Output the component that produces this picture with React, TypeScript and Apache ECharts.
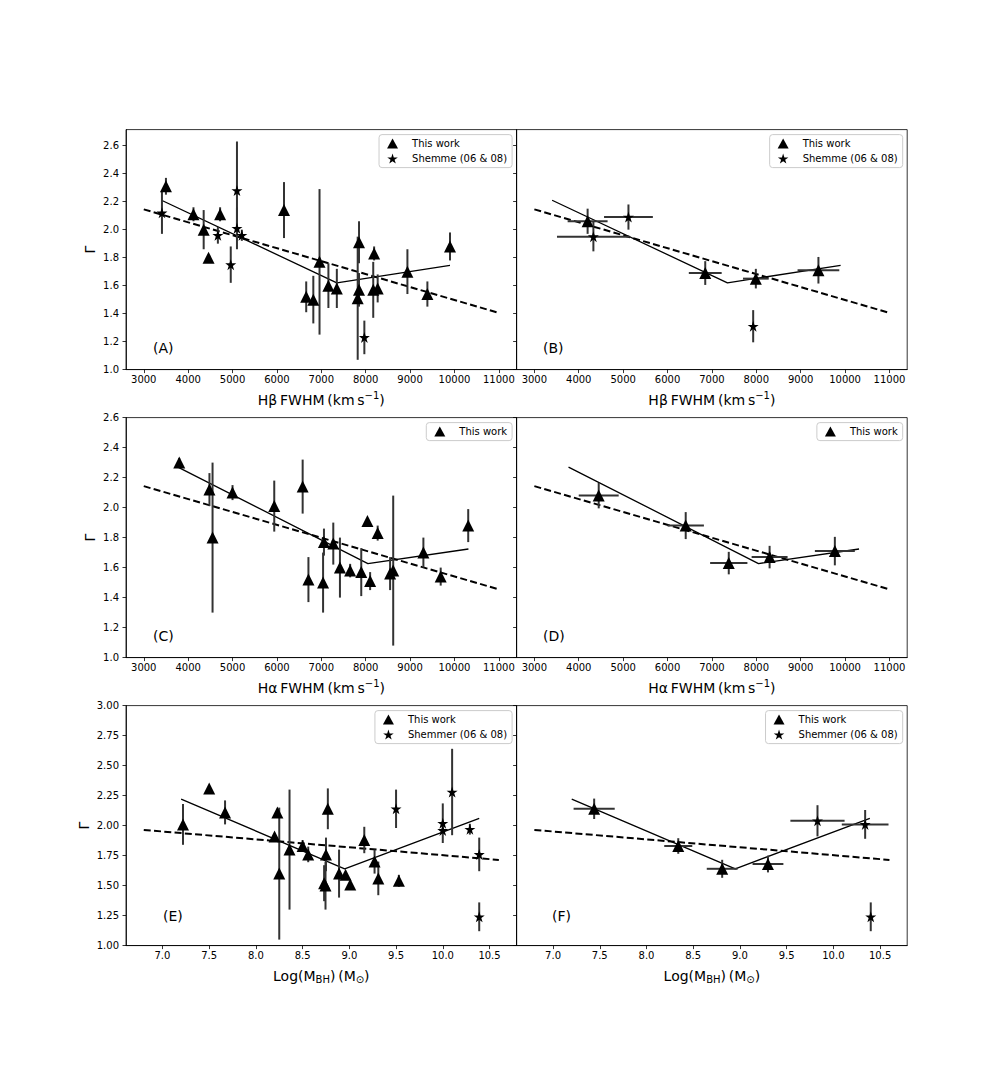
import React, { useEffect, useRef } from "react";
import * as echarts from "echarts";

// ---------- tick labels ----------
const fwhmTicks = [3000, 4000, 5000, 6000, 7000, 8000, 9000, 10000, 11000];
const mbhTicks = [7.0, 7.5, 8.0, 8.5, 9.0, 9.5, 10.0, 10.5];
const gammaTicksRow1 = [1.0, 1.2, 1.4, 1.6, 1.8, 2.0, 2.2, 2.4, 2.6];
const gammaTicksRow2 = [1.0, 1.2, 1.4, 1.6, 1.8, 2.0, 2.2, 2.4, 2.6];
const gammaTicksRow3 = [1.0, 1.25, 1.5, 1.75, 2.0, 2.25, 2.5, 2.75, 3.0];

// ---------- Panel A: Hβ FWHM vs Γ, individual sources [x, y, yErr] ----------
const panelAWork = [
  [3500, 2.31, 0.06], [4120, 2.11, 0.05], [4350, 2.0, 0.14], [4460, 1.8, 0],
  [4720, 2.11, 0.05], [6160, 2.14, 0.2], [6660, 1.52, 0.11], [6820, 1.5, 0.17],
  [6960, 1.77, 0.52], [7160, 1.6, 0.16], [7350, 1.58, 0.14], [7820, 1.51, 0.44],
  [7850, 1.91, 0.15], [7850, 1.57, 0.12], [8190, 1.83, 0.05], [8170, 1.57, 0.2],
  [8270, 1.58, 0.1], [8940, 1.7, 0.16], [9390, 1.54, 0.09], [9900, 1.88, 0.1],
];
const panelAShemmer = [
  [3410, 2.12, 0.15], [4670, 1.96, 0.06], [4960, 1.75, 0.13], [5100, 2.28, 0.35],
  [5100, 2.01, 0.15], [5210, 1.96, 0.04], [7970, 1.23, 0.12],
];

// ---------- Panel B: Hβ FWHM binned [x, y, xErr, yErr] ----------
const panelBWork = [
  [4200, 2.06, 450, 0.09], [6850, 1.69, 370, 0.085], [7990, 1.65, 290, 0.07], [9400, 1.71, 470, 0.095],
];
const panelBShemmer = [
  [4330, 1.95, 820, 0.105], [5120, 2.09, 550, 0.09], [7930, 1.31, 0, 0.115],
];

// ---------- Panel C: Hα FWHM vs Γ [x, y, yErr] ----------
const panelCWork = [
  [3800, 2.3, 0.03], [4480, 2.12, 0.11], [4550, 1.8, 0.5], [5000, 2.1, 0.05],
  [5940, 2.01, 0.17], [6580, 2.14, 0.18], [6710, 1.52, 0.15], [7040, 1.5, 0.2],
  [7060, 1.77, 0.09], [7270, 1.76, 0.14], [7420, 1.6, 0.2], [7650, 1.58, 0.045],
  [7900, 1.57, 0.16], [8040, 1.91, 0], [8100, 1.51, 0.06], [8270, 1.83, 0.05],
  [8550, 1.56, 0.11], [8620, 1.58, 0.5], [9300, 1.7, 0.1], [9690, 1.54, 0.06],
  [10310, 1.88, 0.11],
];

// ---------- Panel D: Hα FWHM binned [x, y, xErr, yErr] ----------
const panelDWork = [
  [4450, 2.08, 450, 0.085], [6410, 1.88, 410, 0.09], [7380, 1.63, 420, 0.075],
  [8300, 1.67, 405, 0.075], [9770, 1.71, 450, 0.095],
];

// ---------- Panel E: log M_BH vs Γ [x, y, yErr] ----------
const panelEWork = [
  [7.22, 2.01, 0.17], [7.5, 2.31, 0], [7.67, 2.11, 0.1], [8.2, 1.91, 0],
  [8.23, 2.11, 0.03], [8.25, 1.6, 0.55], [8.36, 1.8, 0.5], [8.5, 1.83, 0.05],
  [8.56, 1.76, 0.065], [8.75, 1.76, 0.14], [8.73, 1.52, 0.15], [8.745, 1.5, 0.2],
  [8.77, 2.14, 0.17], [8.89, 1.6, 0.2], [8.96, 1.59, 0], [9.01, 1.51, 0],
  [9.16, 1.88, 0.11], [9.27, 1.7, 0.1], [9.31, 1.56, 0.14], [9.53, 1.54, 0.05],
];
const panelEShemmer = [
  [9.5, 2.14, 0.16], [10.0, 2.02, 0.165], [10.0, 1.96, 0], [10.1, 2.28, 0.36],
  [10.29, 1.97, 0.045], [10.39, 1.76, 0.14], [10.39, 1.24, 0.12],
];

// ---------- Panel F: log M_BH binned [x, y, xErr, yErr] ----------
const panelFWork = [
  [7.44, 2.14, 0.22, 0.085], [8.34, 1.83, 0.15, 0.065], [8.81, 1.64, 0.165, 0.075], [9.3, 1.68, 0.165, 0.07],
];
const panelFShemmer = [
  [9.83, 2.04, 0.29, 0.13], [10.34, 2.01, 0.25, 0.12], [10.4, 1.24, 0, 0.12],
];

// ---------- fitted relations ----------
const hbBrokenX = [3400, 7350, 9900];
const hbBrokenY = [2.21, 1.62, 1.745];
const hbLinearX = [3000, 11000];
const hbLinearY = [2.145, 1.405];
const haBrokenX = [3770, 8050, 10315];
const haBrokenY = [2.27, 1.627, 1.724];
const haLinearX = [3000, 11000];
const haLinearY = [2.143, 1.455];
const mbhBrokenX = [7.2, 8.95, 10.39];
const mbhBrokenY = [2.22, 1.64, 2.06];
const mbhLinearX = [6.8, 10.6];
const mbhLinearY = [1.964, 1.714];

const STAR =
  "path://M0,-10L2.245,-3.09L9.511,-3.09L3.633,1.18L5.878,8.09L0,3.82L-5.878,8.09L-3.633,1.18L-9.511,-3.09L-2.245,-3.09Z";

const FONT = "DejaVu Sans";
const TS = "\u2009";
const hbName = `{t|Hβ${TS}FWHM${TS}(km${TS}s}{sup|−1}{t|)}`;
const haName = `{t|Hα${TS}FWHM${TS}(km${TS}s}{sup|−1}{t|)}`;
const mbhName = `{t|Log(M}{sub|BH}{t|)${TS}(M}{sub|⊙}{t|)}`;

const withXErr = (rows: number[][]) => rows.map((r) => [r[0], r[1], 0, r[2]]);
const zip = (xs: number[], ys: number[]) => xs.map((x, i) => [x, ys[i]]);

const COL_LEFT = [126, 516.6];
const COL_W = 390.6;
const ROW_TOP = [129.6, 417.6, 705.6];
const ROW_H = 240;

type Panel = {
  label: string; col: number; row: number;
  xMin: number; xMax: number; xTicks: number[]; xDec: number; xName: string;
  yMin: number; yMax: number; yTicks: number[]; yDec: number;
  work: number[][]; shem: number[][]; shemName: string | null;
  broken: number[][]; linear: number[][];
  labelDx: number; labelDy: number; yNameGap: number;
};

const panels: Panel[] = [
  { label: "(A)", col: 0, row: 0, xMin: 2600, xMax: 11400, xTicks: fwhmTicks, xDec: 0, xName: hbName,
    yMin: 1.0, yMax: 2.715, yTicks: gammaTicksRow1, yDec: 1,
    work: withXErr(panelAWork), shem: withXErr(panelAShemmer), shemName: "Shemme (06 & 08)",
    broken: zip(hbBrokenX, hbBrokenY), linear: zip(hbLinearX, hbLinearY), labelDx: 27, labelDy: 19.6, yNameGap: 29 },
  { label: "(B)", col: 1, row: 0, xMin: 2600, xMax: 11400, xTicks: fwhmTicks, xDec: 0, xName: hbName,
    yMin: 1.0, yMax: 2.715, yTicks: gammaTicksRow1, yDec: 1,
    work: panelBWork, shem: panelBShemmer, shemName: "Shemme (06 & 08)",
    broken: zip(hbBrokenX, hbBrokenY), linear: zip(hbLinearX, hbLinearY), labelDx: 26.4, labelDy: 19.6, yNameGap: 29 },
  { label: "(C)", col: 0, row: 1, xMin: 2600, xMax: 11400, xTicks: fwhmTicks, xDec: 0, xName: haName,
    yMin: 1.0, yMax: 2.6, yTicks: gammaTicksRow2, yDec: 1,
    work: withXErr(panelCWork), shem: [], shemName: null,
    broken: zip(haBrokenX, haBrokenY), linear: zip(haLinearX, haLinearY), labelDx: 27, labelDy: 19.6, yNameGap: 29 },
  { label: "(D)", col: 1, row: 1, xMin: 2600, xMax: 11400, xTicks: fwhmTicks, xDec: 0, xName: haName,
    yMin: 1.0, yMax: 2.6, yTicks: gammaTicksRow2, yDec: 1,
    work: panelDWork, shem: [], shemName: null,
    broken: zip(haBrokenX, haBrokenY), linear: zip(haLinearX, haLinearY), labelDx: 26.4, labelDy: 19.6, yNameGap: 29 },
  { label: "(E)", col: 0, row: 2, xMin: 6.61, xMax: 10.79, xTicks: mbhTicks, xDec: 1, xName: mbhName,
    yMin: 1.0, yMax: 3.0, yTicks: gammaTicksRow3, yDec: 2,
    work: withXErr(panelEWork), shem: withXErr(panelEShemmer), shemName: "Shemmer (06 & 08)",
    broken: zip(mbhBrokenX, mbhBrokenY), linear: zip(mbhLinearX, mbhLinearY), labelDx: 37, labelDy: 27.6, yNameGap: 35 },
  { label: "(F)", col: 1, row: 2, xMin: 6.61, xMax: 10.79, xTicks: mbhTicks, xDec: 1, xName: mbhName,
    yMin: 1.0, yMax: 3.0, yTicks: gammaTicksRow3, yDec: 2,
    work: panelFWork, shem: panelFShemmer, shemName: "Shemmer (06 & 08)",
    broken: zip(mbhBrokenX, mbhBrokenY), linear: zip(mbhLinearX, mbhLinearY), labelDx: 35.4, labelDy: 27.6, yNameGap: 35 },
];

const errRender = (params: any, api: any) => {
  const x = api.value(0), y = api.value(1), xe = api.value(2), ye = api.value(3);
  const children: any[] = [];
  const style = { stroke: "#333", lineWidth: 2 };
  if (ye > 0) {
    const a = api.coord([x, y - ye]), b = api.coord([x, y + ye]);
    children.push({ type: "line", shape: { x1: a[0], y1: a[1], x2: b[0], y2: b[1] }, style });
  }
  if (xe > 0) {
    const a = api.coord([x - xe, y]), b = api.coord([x + xe, y]);
    children.push({ type: "line", shape: { x1: a[0], y1: a[1], x2: b[0], y2: b[1] }, style });
  }
  return { type: "group", children };
};

function buildOption() {
  const grid: any[] = [], xAxis: any[] = [], yAxis: any[] = [], series: any[] = [], legend: any[] = [], graphic: any[] = [];
  const nameStyle = {
    color: "#000", fontFamily: FONT, fontSize: 14,
    rich: {
      t: { fontSize: 14, lineHeight: 18, fontFamily: FONT, color: "#000" },
      sup: { fontSize: 10, lineHeight: 10, verticalAlign: "top", fontFamily: FONT, color: "#000" },
      sub: { fontSize: 10, lineHeight: 10, verticalAlign: "bottom", fontFamily: FONT, color: "#000" },
    },
  };
  panels.forEach((p, i) => {
    const left = COL_LEFT[p.col], top = ROW_TOP[p.row];
    grid.push({ left, top, width: COL_W, height: ROW_H, show: true, borderColor: "#000", borderWidth: 0.8,
      backgroundColor: "transparent", containLabel: false, outerBoundsMode: "none" });
    xAxis.push({
      type: "value", gridIndex: i, min: p.xMin, max: p.xMax,
      name: p.xName, nameLocation: "middle", nameGap: 21, nameTextStyle: nameStyle,
      axisLine: { show: true, onZero: false, lineStyle: { color: "#000", width: 0.8 } },
      axisTick: { show: true, inside: false, length: 3.5, lineStyle: { color: "#000", width: 0.8 }, customValues: p.xTicks },
      axisLabel: { show: true, margin: 5, color: "#000", fontSize: 10, fontFamily: FONT, customValues: p.xTicks,
        formatter: (v: number) => v.toFixed(p.xDec) },
      splitLine: { show: false },
    });
    yAxis.push({
      type: "value", gridIndex: i, min: p.yMin, max: p.yMax,
      name: p.col === 0 ? "Γ" : "", nameLocation: "middle", nameGap: p.yNameGap,
      nameTextStyle: { color: "#000", fontFamily: FONT, fontSize: 14 },
      axisLine: { show: true, onZero: false, lineStyle: { color: "#000", width: 0.8 } },
      axisTick: { show: true, inside: false, length: 3.5, lineStyle: { color: "#000", width: 0.8 }, customValues: p.yTicks },
      axisLabel: { show: p.col === 0, margin: 7, color: "#000", fontSize: 10, fontFamily: FONT, customValues: p.yTicks,
        formatter: (v: number) => v.toFixed(p.yDec) },
      splitLine: { show: false },
    });
    series.push({ type: "line", xAxisIndex: i, yAxisIndex: i, data: p.linear, symbol: "none", silent: true, z: 2,
      lineStyle: { color: "#000", width: 2, type: [7, 3.3] } });
    series.push({ type: "line", xAxisIndex: i, yAxisIndex: i, data: p.broken, symbol: "none", silent: true, z: 2,
      lineStyle: { color: "#000", width: 1.3 } });
    series.push({ type: "custom", xAxisIndex: i, yAxisIndex: i, data: p.work, renderItem: errRender,
      encode: { x: 0, y: 1 }, z: 3, silent: true });
    series.push({ type: "scatter", name: "This work", xAxisIndex: i, yAxisIndex: i,
      data: p.work.map((r) => [r[0], r[1]]), symbol: "triangle", symbolSize: 12,
      itemStyle: { color: "#000", opacity: 1 }, z: 5, silent: true });
    if (p.shemName) {
      series.push({ type: "custom", xAxisIndex: i, yAxisIndex: i, data: p.shem, renderItem: errRender,
        encode: { x: 0, y: 1 }, z: 3, silent: true });
      series.push({ type: "scatter", name: p.shemName, xAxisIndex: i, yAxisIndex: i,
        data: p.shem.map((r) => [r[0], r[1]]), symbol: STAR, symbolSize: 11,
        itemStyle: { color: "#000", opacity: 1 }, z: 5, silent: true });
    }
    const legData: any[] = [{ name: "This work", icon: "triangle", itemStyle: { opacity: 1 } }];
    if (p.shemName) legData.push({ name: p.shemName, icon: STAR, itemStyle: { opacity: 1 } });
    legend.push({
      data: legData, orient: "vertical", right: 1008 - (left + COL_W) + 4.5, top: top + 5,
      selectedMode: false, itemWidth: 11, itemHeight: 10, itemGap: 3, padding: [3, 5, 3, 8],
      backgroundColor: "rgba(255,255,255,0.8)", borderColor: "#ccc", borderWidth: 1, borderRadius: 3,
      itemStyle: { opacity: 1 },
      textStyle: { color: "#000", fontSize: 10, fontFamily: FONT, lineHeight: 12, padding: [0, 0, 0, 9] },
    });
    graphic.push({
      type: "text", left: left + p.labelDx, top: top + ROW_H - p.labelDy - 9,
      style: { text: p.label, fontSize: 14, fontFamily: FONT, fill: "#000" }, silent: true,
    });
  });
  return {
    animation: false,
    textStyle: { fontFamily: FONT },
    grid, xAxis, yAxis, series, legend, graphic,
  };
}

export default function App() {
  const ref = useRef<HTMLDivElement>(null);
  useEffect(() => {
    if (!ref.current) return;
    const chart = echarts.init(ref.current, undefined, { renderer: "svg" });
    chart.setOption(buildOption() as any);
    return () => chart.dispose();
  }, []);
  return (
    <div
      ref={ref}
      style={{ position: "absolute", left: 0, top: 0, width: 1008, height: 1080, background: "#fff" }}
    />
  );
}
